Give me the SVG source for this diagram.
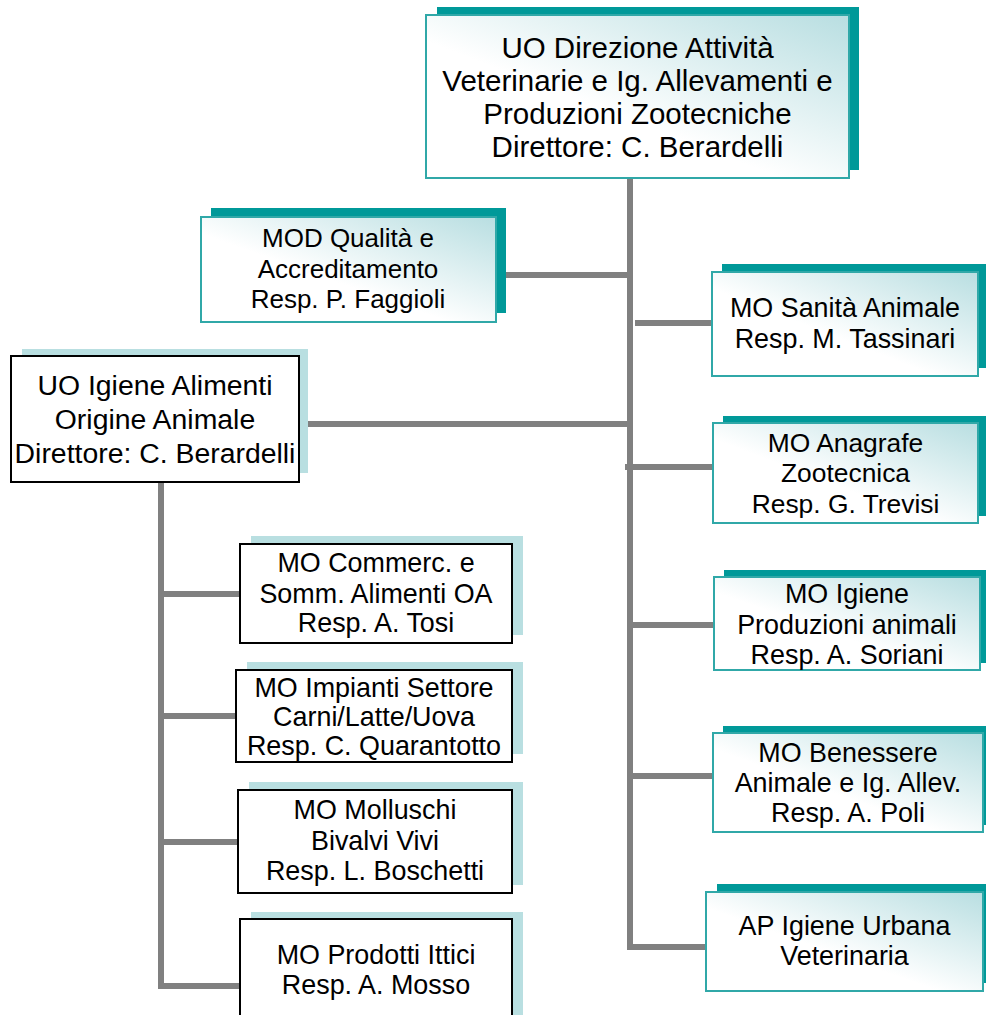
<svg xmlns="http://www.w3.org/2000/svg" width="986" height="1015" viewBox="0 0 986 1015">
<defs>
<linearGradient id="tg" x1="0" y1="1" x2="1" y2="0">
<stop offset="0" stop-color="#ffffff"/>
<stop offset="0.42" stop-color="#ffffff"/>
<stop offset="1" stop-color="#b8dee1"/>
</linearGradient>
<style>
.ts{fill:#009999}
.tb{fill:url(#tg);stroke:#30a8a8;stroke-width:2}
.ls{fill:#b9dfe1}
.lb{fill:#ffffff;stroke:#000000;stroke-width:2}
.c{fill:none;stroke:#808080;stroke-width:6}
text{font-family:"Liberation Sans",Arial,sans-serif;fill:#000000;text-anchor:middle}
</style>
</defs>
<rect width="986" height="1015" fill="#ffffff"/>
<g id="connectors">
<path class="c" d="M630 178V947H706"/>
<path class="c" d="M496 275H630"/>
<path class="c" d="M635 323H712"/>
<path class="c" d="M308 424H630"/>
<path class="c" d="M625 467H713"/>
<path class="c" d="M630 625H714"/>
<path class="c" d="M630 776H713"/>
<path class="c" d="M161 482V986H240"/>
<path class="c" d="M161 594H240"/>
<path class="c" d="M161 716H236"/>
<path class="c" d="M161 842H238"/>
</g>
<g id="n-direzione">
<rect class="ts" x="437" y="7" width="422" height="163"/>
<rect class="tb" x="426" y="15" width="423" height="163"/>
<text font-size="29.5"><tspan x="637.5" y="58">UO Direzione Attività</tspan><tspan x="637.5" y="91">Veterinarie e Ig. Allevamenti e</tspan><tspan x="637.5" y="124">Produzioni Zootecniche</tspan><tspan x="637.5" y="157">Direttore: C. Berardelli</tspan></text>
</g>
<g id="n-qualita">
<rect class="ts" x="211" y="208" width="295" height="105"/>
<rect class="tb" x="201" y="217" width="295" height="105"/>
<text font-size="26"><tspan x="348" y="247">MOD Qualità e</tspan><tspan x="348" y="278">Accreditamento</tspan><tspan x="348" y="308">Resp. P. Faggioli</tspan></text>
</g>
<g id="n-igiene-alimenti">
<rect class="ls" x="22" y="349" width="286" height="124"/>
<rect class="lb" x="11" y="356" width="288" height="126"/>
<text font-size="28.4"><tspan x="155" y="395">UO Igiene Alimenti</tspan><tspan x="155" y="429">Origine Animale</tspan><tspan x="155" y="463">Direttore: C. Berardelli</tspan></text>
</g>
<g id="n-sanita">
<rect class="ts" x="722" y="264" width="266" height="104"/>
<rect class="tb" x="712" y="272" width="266" height="104"/>
<text font-size="26.9"><tspan x="845" y="317">MO Sanità Animale</tspan><tspan x="845" y="348">Resp. M. Tassinari</tspan></text>
</g>
<g id="n-anagrafe">
<rect class="ts" x="723" y="416" width="265" height="100"/>
<rect class="tb" x="713" y="423" width="265" height="100"/>
<text font-size="26.4"><tspan x="845.5" y="452">MO Anagrafe</tspan><tspan x="845.5" y="482">Zootecnica</tspan><tspan x="845.5" y="513">Resp. G. Trevisi</tspan></text>
</g>
<g id="n-igiene-produzioni">
<rect class="ts" x="724" y="570" width="266" height="93"/>
<rect class="tb" x="714" y="577" width="266" height="93"/>
<text font-size="26.9"><tspan x="847" y="603">MO Igiene</tspan><tspan x="847" y="634">Produzioni animali</tspan><tspan x="847" y="664">Resp. A. Soriani</tspan></text>
</g>
<g id="n-benessere">
<rect class="ts" x="723" y="726" width="270" height="99"/>
<rect class="tb" x="713" y="733" width="270" height="99"/>
<text font-size="26.9"><tspan x="848" y="762">MO Benessere</tspan><tspan x="848" y="792">Animale e Ig. Allev.</tspan><tspan x="848" y="822">Resp. A. Poli</tspan></text>
</g>
<g id="n-igiene-urbana">
<rect class="ts" x="717" y="884" width="276" height="99"/>
<rect class="tb" x="706" y="892" width="277" height="99"/>
<text font-size="26.9"><tspan x="844.5" y="935">AP Igiene Urbana</tspan><tspan x="844.5" y="965">Veterinaria</tspan></text>
</g>
<g id="n-commercio">
<rect class="ls" x="251" y="536" width="272" height="99"/>
<rect class="lb" x="240" y="544" width="272" height="99"/>
<text font-size="26.9"><tspan x="376" y="572">MO Commerc. e</tspan><tspan x="376" y="603">Somm. Alimenti OA</tspan><tspan x="376" y="632">Resp. A. Tosi</tspan></text>
</g>
<g id="n-impianti">
<rect class="ls" x="247" y="662" width="276" height="92"/>
<rect class="lb" x="236" y="670" width="276" height="92"/>
<text font-size="26.9"><tspan x="374" y="697">MO Impianti Settore</tspan><tspan x="374" y="726">Carni/Latte/Uova</tspan><tspan x="374" y="755">Resp. C. Quarantotto</tspan></text>
</g>
<g id="n-molluschi">
<rect class="ls" x="249" y="782" width="274" height="103"/>
<rect class="lb" x="238" y="790" width="274" height="103"/>
<text font-size="26.9"><tspan x="375" y="819">MO Molluschi</tspan><tspan x="375" y="850">Bivalvi Vivi</tspan><tspan x="375" y="880">Resp. L. Boschetti</tspan></text>
</g>
<g id="n-ittici">
<rect class="ls" x="251" y="912" width="272" height="120"/>
<rect class="lb" x="240" y="919" width="272" height="120"/>
<text font-size="26.9"><tspan x="376" y="964">MO Prodotti Ittici</tspan><tspan x="376" y="994">Resp. A. Mosso</tspan></text>
</g>
</svg>
